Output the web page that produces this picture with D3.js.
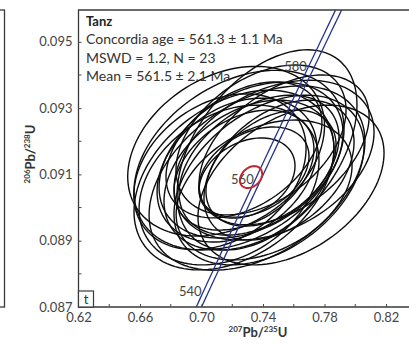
<!DOCTYPE html>
<html><head><meta charset="utf-8">
<script src="https://cdn.jsdelivr.net/npm/d3@7"></script>
<style>
html,body{margin:0;padding:0;background:#fff;}
svg{display:block;}
text{font-family:Lato,"Open Sans",sans-serif;}
</style></head>
<body>
<svg id="chart" width="409" height="348"></svg>
<script>
// ---- data ----
const xTickLabels = [0.62, 0.66, 0.70, 0.74, 0.78, 0.82];
const xMinorTicks = [0.64, 0.68, 0.72, 0.76, 0.80];
const yTickLabels = [0.087, 0.089, 0.091, 0.093, 0.095];
const yMinorTicks = [0.088, 0.090, 0.092, 0.094];
const concordiaAges = [540, 560, 580];
// analyses: 207Pb/235U, 2s, 206Pb/238U, 2s, rho
const r75 = [0.7426,0.7582,0.7160,0.7211,0.7309,0.7374,0.7276,0.7341,0.7296,0.7472,0.7244,0.7439,0.7179,0.7387,0.7504,0.7231,0.7322,0.7407,0.7276,0.7537,0.7120,0.7361,0.7452];
const s75 = [0.0585,0.0605,0.0640,0.0650,0.0553,0.0520,0.0455,0.0358,0.0312,0.0650,0.0683,0.0618,0.0585,0.0553,0.0488,0.0520,0.0598,0.0572,0.0507,0.0553,0.0560,0.0702,0.0423];
const r68 = [0.09174,0.09068,0.09170,0.09083,0.09098,0.09128,0.09113,0.09107,0.09089,0.09143,0.09143,0.09083,0.09068,0.09204,0.09113,0.09113,0.09143,0.09053,0.09174,0.09174,0.09108,0.09089,0.09119];
const s68 = [0.00302,0.00241,0.00256,0.00271,0.00226,0.00211,0.00181,0.00136,0.00121,0.00241,0.00271,0.00256,0.00241,0.00226,0.00211,0.00217,0.00235,0.00211,0.00205,0.00226,0.00235,0.00278,0.00175];
const rhos = [0.45,0.40,0.30,0.35,0.35,0.40,0.35,0.35,0.30,0.35,0.35,0.40,0.30,0.40,0.40,0.30,0.35,0.35,0.40,0.45,0.30,0.40,0.40];
// concordia age ellipse
const concX = [0.7322], concSX = [0.0072], concY = [0.09092], concSY = [0.00033], concRho = [0.3];
const lambda238 = 1.55125e-10, lambda235 = 9.8485e-10, lambda235RelErr = 0.0019;
const infoLines = ["Concordia age = 561.3 \u00b1 1.1 Ma", "MSWD = 1.2, N = 23", "Mean = 561.5 \u00b1 2.1 Ma"];

// ---- layout ----
const svg = d3.select("#chart");
const x = d3.scaleLinear().domain([0.62, 0.835]).range([78.5, 409.1]);
const y = d3.scaleLinear().domain([0.087, 0.09596]).range([307, 10]);
const frame = "#3a3a3a", tickCol = "#4a4a4a";

// left neighbour panel fragment
svg.append("rect").attr("x", -50).attr("y", 10).attr("width", 54.5).attr("height", 297)
  .attr("fill", "none").attr("stroke", frame).attr("stroke-width", 1.3);

svg.append("clipPath").attr("id", "pc").append("rect")
  .attr("x", 78.5).attr("y", 10).attr("width", 340).attr("height", 297);
const plot = svg.append("g").attr("clip-path", "url(#pc)");

// ellipses
function ellipsePts(cx, sx, cy, sy, r) {
  const pts = [];
  const k = Math.sqrt(1 - r * r);
  for (let i = 0; i < 120; i++) {
    const t = i / 120 * 2 * Math.PI;
    pts.push([x(cx + sx * Math.cos(t)), y(cy + sy * (r * Math.cos(t) + k * Math.sin(t)))]);
  }
  return pts;
}
const closed = d3.line().curve(d3.curveLinearClosed);
plot.selectAll("path.ell").data(d3.range(r75.length)).join("path").attr("class", "ell")
  .attr("d", i => closed(ellipsePts(r75[i], s75[i], r68[i], s68[i], rhos[i])))
  .attr("fill", "none").attr("stroke", "#0d0d0d").attr("stroke-width", 1.4);

// concordia envelope
const ages = d3.range(520, 611, 1);
const open = d3.line();
[-1, 1].forEach(sgn => {
  const l235 = lambda235 * (1 + sgn * lambda235RelErr);
  plot.append("path")
    .attr("d", open(ages.map(a => [x(Math.exp(l235 * a * 1e6) - 1), y(Math.exp(lambda238 * a * 1e6) - 1)])))
    .attr("fill", "none").attr("stroke", "#27348f").attr("stroke-width", 1.3);
});
plot.selectAll("text.age").data(concordiaAges).join("text").attr("class", "age")
  .attr("x", a => x(Math.exp(lambda235 * a * 1e6) - 1) - 3)
  .attr("y", a => y(Math.exp(lambda238 * a * 1e6) - 1) + 1)
  .attr("text-anchor", "end").attr("font-size", 13).attr("fill", "#444").text(a => a);

// concordia age ellipse
plot.append("path").attr("d", closed(ellipsePts(concX[0], concSX[0], concY[0], concSY[0], concRho[0])))
  .attr("fill", "none").attr("stroke", "#c0262b").attr("stroke-width", 2);

// frame (top, left, bottom)
const fp = d3.path();
fp.moveTo(420, y(0.09596)); fp.lineTo(x(0.62), y(0.09596)); fp.lineTo(x(0.62), y(0.087)); fp.lineTo(420, y(0.087));
svg.append("path").attr("d", fp.toString()).attr("fill", "none").attr("stroke", frame).attr("stroke-width", 1.3);

// x axis ticks (inward)
const xAxis = d3.axisBottom(x).tickValues(xTickLabels).tickSize(-3).tickPadding(6).tickFormat(d3.format(".2f"));
const gx = svg.append("g").attr("transform", `translate(0,${y(0.087)})`).call(xAxis);
gx.select(".domain").remove();
gx.selectAll(".tick line").attr("stroke", tickCol);
gx.selectAll(".tick text").attr("font-size", 13).attr("fill", "#444").attr("font-family", "Lato,sans-serif");
svg.append("g").selectAll("line").data(xMinorTicks).join("line")
  .attr("x1", d => x(d)).attr("x2", d => x(d)).attr("y1", y(0.087)).attr("y2", y(0.087) - 3)
  .attr("stroke", tickCol);

// y axis ticks
const yAxis = d3.axisLeft(y).tickValues(yTickLabels).tickSize(-3).tickPadding(6).tickFormat(d3.format(".3f"));
const gy = svg.append("g").attr("transform", `translate(${x(0.62)},0)`).call(yAxis);
gy.select(".domain").remove();
gy.selectAll(".tick line").attr("stroke", tickCol);
gy.selectAll(".tick text").attr("font-size", 13).attr("fill", "#444").attr("font-family", "Lato,sans-serif");
svg.append("g").selectAll("line").data(yMinorTicks).join("line")
  .attr("y1", d => y(d)).attr("y2", d => y(d)).attr("x1", x(0.62)).attr("x2", x(0.62) + 3)
  .attr("stroke", tickCol);

// axis titles
function isoTitle(sel, a, b, c, d) {
  sel.append("tspan").attr("font-size", 8).attr("dy", -5).text(a);
  sel.append("tspan").attr("font-size", 13).attr("dy", 5).text(b);
  sel.append("tspan").attr("font-size", 8).attr("dy", -5).text(c);
  sel.append("tspan").attr("font-size", 13).attr("dy", 5).text(d);
}
const xt = svg.append("text").attr("x", 258).attr("y", 337).attr("text-anchor", "middle")
  .attr("font-weight", "bold").attr("fill", "#333");
isoTitle(xt, "207", "Pb/", "235", "U");
const yt = svg.append("text").attr("transform", "translate(35,154) rotate(-90)").attr("text-anchor", "middle")
  .attr("font-weight", "bold").attr("fill", "#333");
isoTitle(yt, "206", "Pb/", "238", "U");

// info text
svg.append("text").attr("x", 86).attr("y", 26).attr("font-size", 13).attr("font-weight", "bold")
  .attr("fill", "#222").text("Tanz");
svg.selectAll("text.info").data(infoLines).join("text").attr("class", "info")
  .attr("x", 86).attr("y", (d, i) => 44 + i * 18.5).attr("font-size", 14).attr("fill", "#333").text(d => d);

// panel letter
svg.append("rect").attr("x", x(0.62)).attr("y", 291).attr("width", 15).attr("height", 16)
  .attr("fill", "#fff").attr("stroke", frame).attr("stroke-width", 1.2);
svg.append("text").attr("x", x(0.62) + 7.5).attr("y", 304).attr("text-anchor", "middle")
  .attr("font-size", 13).attr("fill", "#333").text("t");
</script>
</body></html>
